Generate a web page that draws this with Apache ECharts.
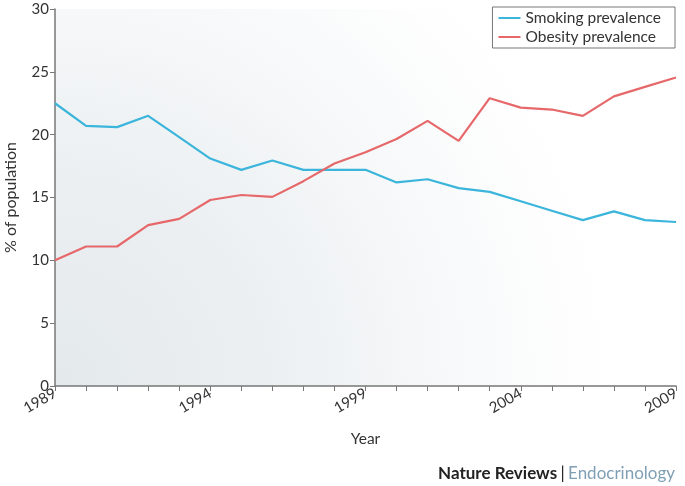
<!DOCTYPE html>
<html>
<head>
<meta charset="utf-8">
<style>
  html, body { margin: 0; padding: 0; background: #fff; }
  #main { width: 685px; height: 486px; }
</style>
<script src="https://cdn.jsdelivr.net/npm/echarts@6/dist/echarts.min.js"></script>
</head>
<body>
<div id="main"></div>
<script>
var years = ['1989','1990','1991','1992','1993','1994','1995','1996','1997','1998','1999',
             '2000','2001','2002','2003','2004','2005','2006','2007','2008','2009'];
var smoking = [22.5, 20.7, 20.6, 21.5, 19.8, 18.1, 17.2, 17.95, 17.2, 17.2, 17.2,
               16.2, 16.45, 15.75, 15.45, 14.7, 13.95, 13.2, 13.9, 13.2, 13.05];
var obesity = [10.0, 11.1, 11.1, 12.8, 13.3, 14.8, 15.2, 15.05, 16.3, 17.7, 18.6,
               19.65, 21.1, 19.5, 22.9, 22.15, 22.0, 21.5, 23.05, 23.8, 24.55];
var yTicks = [0, 5, 10, 15, 20, 25, 30];

var font = 'Lato, "Open Sans", sans-serif';
var myChart = echarts.init(document.getElementById('main'));

myChart.setOption({
  animation: false,
  textStyle: { fontFamily: font },
  grid: {
    left: 55, right: 9, top: 9, bottom: 100,
    outerBoundsMode: 'none',
    containLabel: false,
    show: true,
    borderWidth: 0,
    // soft radial shading from the bottom-left corner
    backgroundColor: new echarts.graphic.RadialGradient(0, 1, 1.55, [
      { offset: 0, color: '#e4e9ec' },
      { offset: 0.35, color: '#ebeff1' },
      { offset: 0.65, color: '#f6f8f9' },
      { offset: 0.9, color: '#fefefe' },
      { offset: 1, color: '#ffffff' }
    ])
  },
  legend: {
    right: 10, top: 7,
    orient: 'vertical',
    borderColor: '#777', borderWidth: 1,
    backgroundColor: '#fff',
    padding: [3, 14, 3, 6],
    itemGap: 3,
    itemWidth: 22, itemHeight: 2,
    icon: 'rect',
    textStyle: { fontSize: 15.5, color: '#333', fontFamily: font },
    data: ['Smoking prevalence', 'Obesity prevalence']
  },
  xAxis: {
    type: 'category',
    boundaryGap: false,
    data: years,
    name: 'Year',
    nameLocation: 'middle',
    nameGap: 45,
    nameTextStyle: { fontSize: 15.5, color: '#333' },
    axisLine: { lineStyle: { color: '#777', width: 1.5 } },
    axisTick: { interval: 0, length: 5, lineStyle: { color: '#777' } },
    axisLabel: {
      interval: 4, rotate: 30, fontSize: 15, color: '#333', margin: 6
    },
    splitLine: { show: false }
  },
  yAxis: {
    type: 'value',
    min: yTicks[0], max: yTicks[yTicks.length - 1], interval: 5,
    name: '% of population',
    nameLocation: 'middle',
    nameGap: 36,
    nameTextStyle: { fontSize: 16, color: '#333' },
    axisLine: { show: true, lineStyle: { color: '#777', width: 1.5 } },
    axisTick: { show: true, length: 5, lineStyle: { color: '#777' } },
    axisLabel: { fontSize: 15, color: '#333', margin: 6 },
    splitLine: { show: false }
  },
  series: [
    {
      name: 'Smoking prevalence',
      type: 'line',
      data: smoking,
      symbol: 'none',
      color: '#3bb5db',
      lineStyle: { width: 2.2 }
    },
    {
      name: 'Obesity prevalence',
      type: 'line',
      data: obesity,
      symbol: 'none',
      color: '#e6686a',
      lineStyle: { width: 2.2 }
    }
  ],
  graphic: [{
    type: 'text',
    right: 10, bottom: 4,
    style: {
      text: '{a|Nature Reviews} {b||} {c|Endocrinology}',
      rich: {
        a: { fontSize: 17, fontWeight: 'bold', fill: '#222', fontFamily: font },
        b: { fontSize: 17, fill: '#222', fontFamily: font },
        c: { fontSize: 17, fill: '#7f9fb5', fontFamily: font }
      }
    }
  }]
});
</script>
</body>
</html>
